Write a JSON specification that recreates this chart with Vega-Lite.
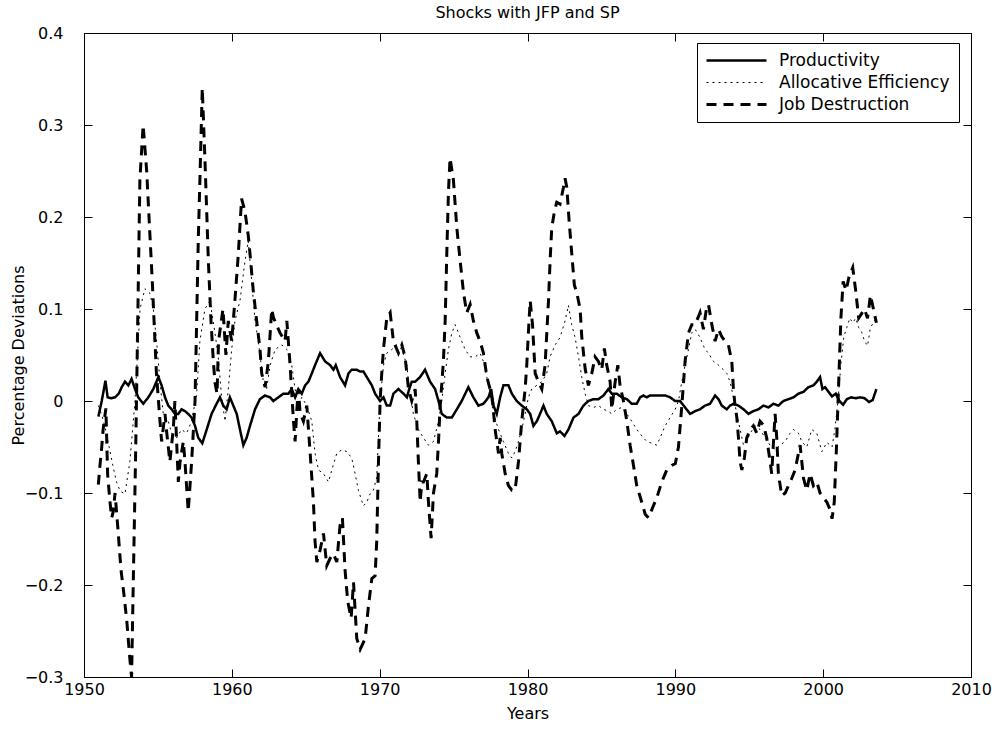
{
"$schema": "https://vega.github.io/schema/vega-lite/v6.json",
"width": 887, "height": 644,
"autosize": "none",
"padding": {"left": 84, "top": 33, "right": 29, "bottom": 55},
"background": "white",
"config": {"view": {"stroke": "black", "strokeWidth": 1}, "font": "DejaVu Sans"},
"title": {"text": "Shocks with JFP and SP", "font": "DejaVu Sans", "fontSize": 16, "fontWeight": "normal", "offset": 4, "color": "black", "anchor": "middle"},
"datasets": {
"P": [{"t":1950.97,"v":-0.017},{"t":1951.2,"v":0.0},{"t":1951.45,"v":0.022},{"t":1951.6,"v":0.004},{"t":1951.85,"v":0.003},{"t":1952.1,"v":0.004},{"t":1952.35,"v":0.008},{"t":1952.55,"v":0.015},{"t":1952.77,"v":0.021},{"t":1953.0,"v":0.017},{"t":1953.22,"v":0.024},{"t":1953.45,"v":0.013},{"t":1953.67,"v":0.004},{"t":1954.01,"v":-0.003},{"t":1954.35,"v":0.004},{"t":1954.69,"v":0.013},{"t":1955.03,"v":0.026},{"t":1955.25,"v":0.017},{"t":1955.48,"v":0.004},{"t":1955.7,"v":-0.005},{"t":1955.93,"v":-0.009},{"t":1956.15,"v":-0.014},{"t":1956.38,"v":-0.014},{"t":1956.6,"v":-0.009},{"t":1956.83,"v":-0.011},{"t":1957.05,"v":-0.014},{"t":1957.28,"v":-0.018},{"t":1957.51,"v":-0.027},{"t":1957.73,"v":-0.04},{"t":1958.0,"v":-0.046},{"t":1958.3,"v":-0.031},{"t":1958.63,"v":-0.014},{"t":1958.97,"v":-0.003},{"t":1959.2,"v":0.004},{"t":1959.42,"v":-0.005},{"t":1959.65,"v":-0.009},{"t":1959.87,"v":0.004},{"t":1960.1,"v":-0.005},{"t":1960.33,"v":-0.014},{"t":1960.55,"v":-0.031},{"t":1960.78,"v":-0.048},{"t":1961.0,"v":-0.04},{"t":1961.23,"v":-0.027},{"t":1961.57,"v":-0.009},{"t":1961.9,"v":0.002},{"t":1962.24,"v":0.006},{"t":1962.59,"v":0.004},{"t":1962.81,"v":0.0},{"t":1963.15,"v":0.004},{"t":1963.49,"v":0.008},{"t":1963.83,"v":0.008},{"t":1964.05,"v":0.013},{"t":1964.28,"v":0.004},{"t":1964.5,"v":0.013},{"t":1964.73,"v":0.008},{"t":1964.96,"v":0.017},{"t":1965.18,"v":0.021},{"t":1965.41,"v":0.03},{"t":1965.63,"v":0.039},{"t":1965.97,"v":0.052},{"t":1966.31,"v":0.043},{"t":1966.65,"v":0.039},{"t":1966.87,"v":0.034},{"t":1967.03,"v":0.039},{"t":1967.32,"v":0.026},{"t":1967.66,"v":0.017},{"t":1967.89,"v":0.03},{"t":1968.11,"v":0.034},{"t":1968.45,"v":0.034},{"t":1968.68,"v":0.032},{"t":1968.9,"v":0.032},{"t":1969.13,"v":0.026},{"t":1969.47,"v":0.017},{"t":1969.69,"v":0.008},{"t":1970.03,"v":0.0},{"t":1970.26,"v":0.004},{"t":1970.48,"v":-0.005},{"t":1970.71,"v":-0.005},{"t":1970.93,"v":0.008},{"t":1971.27,"v":0.013},{"t":1971.61,"v":0.008},{"t":1971.84,"v":0.004},{"t":1972.0,"v":0.013},{"t":1972.17,"v":0.021},{"t":1972.4,"v":0.021},{"t":1972.73,"v":0.026},{"t":1973.07,"v":0.034},{"t":1973.41,"v":0.021},{"t":1973.75,"v":0.013},{"t":1973.98,"v":0.0},{"t":1974.2,"v":-0.014},{"t":1974.54,"v":-0.018},{"t":1974.88,"v":-0.018},{"t":1975.22,"v":-0.009},{"t":1975.55,"v":0.0},{"t":1976.0,"v":0.015},{"t":1976.34,"v":0.004},{"t":1976.68,"v":-0.005},{"t":1977.02,"v":-0.003},{"t":1977.36,"v":0.004},{"t":1977.54,"v":0.013},{"t":1977.7,"v":-0.005},{"t":1977.92,"v":-0.014},{"t":1978.15,"v":0.004},{"t":1978.37,"v":0.017},{"t":1978.71,"v":0.017},{"t":1978.94,"v":0.008},{"t":1979.27,"v":0.0},{"t":1979.61,"v":-0.005},{"t":1979.95,"v":-0.009},{"t":1980.18,"v":-0.014},{"t":1980.4,"v":-0.027},{"t":1980.63,"v":-0.022},{"t":1980.85,"v":-0.014},{"t":1981.08,"v":-0.005},{"t":1981.3,"v":-0.014},{"t":1981.64,"v":-0.022},{"t":1981.98,"v":-0.035},{"t":1982.2,"v":-0.033},{"t":1982.5,"v":-0.038},{"t":1982.77,"v":-0.031},{"t":1983.11,"v":-0.018},{"t":1983.45,"v":-0.014},{"t":1983.78,"v":-0.005},{"t":1984.12,"v":0.0},{"t":1984.46,"v":0.002},{"t":1984.8,"v":0.002},{"t":1985.14,"v":0.006},{"t":1985.47,"v":0.013},{"t":1985.7,"v":0.008},{"t":1986.04,"v":0.008},{"t":1986.38,"v":0.004},{"t":1986.72,"v":0.002},{"t":1987.05,"v":-0.003},{"t":1987.39,"v":-0.003},{"t":1987.62,"v":0.004},{"t":1987.84,"v":0.006},{"t":1988.07,"v":0.004},{"t":1988.29,"v":0.006},{"t":1988.63,"v":0.006},{"t":1988.97,"v":0.006},{"t":1989.31,"v":0.006},{"t":1989.65,"v":0.004},{"t":1989.99,"v":0.0},{"t":1990.32,"v":0.0},{"t":1990.66,"v":-0.007},{"t":1991.0,"v":-0.014},{"t":1991.34,"v":-0.011},{"t":1991.67,"v":-0.009},{"t":1992.01,"v":-0.005},{"t":1992.35,"v":-0.003},{"t":1992.69,"v":0.006},{"t":1992.92,"v":0.002},{"t":1993.14,"v":-0.005},{"t":1993.48,"v":-0.009},{"t":1993.7,"v":-0.005},{"t":1993.93,"v":-0.003},{"t":1994.27,"v":-0.005},{"t":1994.61,"v":-0.009},{"t":1994.95,"v":-0.014},{"t":1995.28,"v":-0.011},{"t":1995.62,"v":-0.009},{"t":1995.96,"v":-0.005},{"t":1996.3,"v":-0.007},{"t":1996.64,"v":-0.003},{"t":1996.97,"v":-0.005},{"t":1997.31,"v":0.0},{"t":1997.65,"v":0.002},{"t":1997.99,"v":0.004},{"t":1998.33,"v":0.008},{"t":1998.67,"v":0.01},{"t":1999.0,"v":0.015},{"t":1999.34,"v":0.017},{"t":1999.57,"v":0.021},{"t":1999.79,"v":0.026},{"t":1999.95,"v":0.013},{"t":2000.13,"v":0.015},{"t":2000.36,"v":0.01},{"t":2000.6,"v":0.005},{"t":2000.85,"v":0.008},{"t":2001.1,"v":0.0},{"t":2001.35,"v":-0.004},{"t":2001.6,"v":0.002},{"t":2001.9,"v":0.004},{"t":2002.2,"v":0.003},{"t":2002.5,"v":0.004},{"t":2002.8,"v":0.003},{"t":2003.1,"v":-0.001},{"t":2003.35,"v":0.001},{"t":2003.6,"v":0.013}],
"A": [{"t":1950.97,"v":-0.005},{"t":1951.2,"v":-0.015},{"t":1951.45,"v":-0.03},{"t":1951.7,"v":-0.05},{"t":1951.95,"v":-0.07},{"t":1952.2,"v":-0.088},{"t":1952.45,"v":-0.098},{"t":1952.77,"v":-0.101},{"t":1953.1,"v":-0.066},{"t":1953.45,"v":0.0},{"t":1953.79,"v":0.1},{"t":1954.12,"v":0.122},{"t":1954.46,"v":0.117},{"t":1954.69,"v":0.1},{"t":1954.91,"v":0.065},{"t":1955.14,"v":0.021},{"t":1955.36,"v":-0.014},{"t":1955.7,"v":-0.022},{"t":1955.93,"v":-0.035},{"t":1956.27,"v":-0.04},{"t":1956.6,"v":-0.031},{"t":1956.94,"v":-0.035},{"t":1957.28,"v":-0.022},{"t":1957.62,"v":0.008},{"t":1957.84,"v":0.065},{"t":1958.18,"v":0.1},{"t":1958.52,"v":0.109},{"t":1958.86,"v":0.074},{"t":1959.08,"v":0.048},{"t":1959.31,"v":0.004},{"t":1959.54,"v":-0.022},{"t":1959.76,"v":0.013},{"t":1959.99,"v":0.056},{"t":1960.21,"v":0.087},{"t":1960.55,"v":0.109},{"t":1960.89,"v":0.152},{"t":1961.11,"v":0.174},{"t":1961.34,"v":0.131},{"t":1961.57,"v":0.087},{"t":1961.79,"v":0.065},{"t":1962.13,"v":0.021},{"t":1962.35,"v":0.013},{"t":1962.59,"v":0.039},{"t":1962.93,"v":0.056},{"t":1963.38,"v":0.061},{"t":1963.72,"v":0.056},{"t":1964.05,"v":0.039},{"t":1964.28,"v":0.013},{"t":1964.5,"v":-0.005},{"t":1964.73,"v":0.004},{"t":1965.07,"v":-0.005},{"t":1965.41,"v":-0.022},{"t":1965.63,"v":-0.057},{"t":1965.86,"v":-0.075},{"t":1966.2,"v":-0.079},{"t":1966.54,"v":-0.088},{"t":1966.76,"v":-0.075},{"t":1967.1,"v":-0.057},{"t":1967.44,"v":-0.053},{"t":1967.78,"v":-0.055},{"t":1968.11,"v":-0.062},{"t":1968.34,"v":-0.079},{"t":1968.56,"v":-0.097},{"t":1968.9,"v":-0.114},{"t":1969.13,"v":-0.11},{"t":1969.35,"v":-0.101},{"t":1969.58,"v":-0.097},{"t":1969.8,"v":-0.083},{"t":1970.03,"v":0.0},{"t":1970.26,"v":0.039},{"t":1970.48,"v":0.052},{"t":1970.82,"v":0.056},{"t":1971.16,"v":0.061},{"t":1971.5,"v":0.056},{"t":1971.84,"v":0.039},{"t":1971.95,"v":0.021},{"t":1972.28,"v":-0.014},{"t":1972.62,"v":-0.031},{"t":1972.96,"v":-0.04},{"t":1973.3,"v":-0.048},{"t":1973.64,"v":-0.044},{"t":1973.98,"v":-0.022},{"t":1974.2,"v":0.0},{"t":1974.43,"v":0.03},{"t":1974.65,"v":0.056},{"t":1974.88,"v":0.074},{"t":1975.1,"v":0.083},{"t":1975.33,"v":0.074},{"t":1975.55,"v":0.065},{"t":1975.78,"v":0.056},{"t":1976.12,"v":0.048},{"t":1976.46,"v":0.048},{"t":1976.79,"v":0.052},{"t":1977.02,"v":0.043},{"t":1977.25,"v":0.026},{"t":1977.47,"v":0.008},{"t":1977.7,"v":-0.014},{"t":1978.04,"v":-0.031},{"t":1978.37,"v":-0.044},{"t":1978.71,"v":-0.057},{"t":1978.94,"v":-0.062},{"t":1979.16,"v":-0.055},{"t":1979.39,"v":-0.044},{"t":1979.61,"v":-0.031},{"t":1979.84,"v":-0.014},{"t":1980.06,"v":0.004},{"t":1980.29,"v":0.013},{"t":1980.63,"v":0.017},{"t":1980.97,"v":0.021},{"t":1981.3,"v":0.03},{"t":1981.53,"v":0.048},{"t":1981.87,"v":0.061},{"t":1982.2,"v":0.069},{"t":1982.54,"v":0.087},{"t":1982.77,"v":0.104},{"t":1982.99,"v":0.083},{"t":1983.22,"v":0.069},{"t":1983.45,"v":0.048},{"t":1983.67,"v":0.026},{"t":1983.9,"v":0.008},{"t":1984.12,"v":-0.005},{"t":1984.46,"v":-0.007},{"t":1984.8,"v":-0.005},{"t":1985.14,"v":-0.009},{"t":1985.47,"v":-0.011},{"t":1985.7,"v":-0.014},{"t":1986.04,"v":-0.009},{"t":1986.38,"v":-0.007},{"t":1986.72,"v":-0.014},{"t":1987.05,"v":-0.022},{"t":1987.39,"v":-0.031},{"t":1987.73,"v":-0.038},{"t":1988.07,"v":-0.044},{"t":1988.41,"v":-0.046},{"t":1988.75,"v":-0.048},{"t":1988.97,"v":-0.04},{"t":1989.31,"v":-0.027},{"t":1989.65,"v":-0.018},{"t":1989.99,"v":-0.009},{"t":1990.21,"v":0.0},{"t":1990.44,"v":0.021},{"t":1990.66,"v":0.039},{"t":1990.89,"v":0.056},{"t":1991.11,"v":0.074},{"t":1991.34,"v":0.078},{"t":1991.67,"v":0.069},{"t":1992.01,"v":0.056},{"t":1992.24,"v":0.052},{"t":1992.58,"v":0.043},{"t":1992.92,"v":0.039},{"t":1993.25,"v":0.034},{"t":1993.48,"v":0.03},{"t":1993.7,"v":0.021},{"t":1993.93,"v":0.004},{"t":1994.16,"v":-0.014},{"t":1994.38,"v":-0.031},{"t":1994.61,"v":-0.048},{"t":1994.83,"v":-0.044},{"t":1995.06,"v":-0.035},{"t":1995.4,"v":-0.027},{"t":1995.73,"v":-0.031},{"t":1996.07,"v":-0.04},{"t":1996.41,"v":-0.048},{"t":1996.75,"v":-0.053},{"t":1997.09,"v":-0.048},{"t":1997.43,"v":-0.044},{"t":1997.76,"v":-0.035},{"t":1997.99,"v":-0.031},{"t":1998.33,"v":-0.035},{"t":1998.55,"v":-0.044},{"t":1998.89,"v":-0.05},{"t":1999.23,"v":-0.031},{"t":1999.57,"v":-0.035},{"t":1999.91,"v":-0.055},{"t":2000.25,"v":-0.045},{"t":2000.6,"v":-0.05},{"t":2000.8,"v":-0.03},{"t":2001.0,"v":0.0},{"t":2001.2,"v":0.04},{"t":2001.4,"v":0.07},{"t":2001.6,"v":0.08},{"t":2001.8,"v":0.09},{"t":2002.0,"v":0.085},{"t":2002.2,"v":0.09},{"t":2002.4,"v":0.08},{"t":2002.6,"v":0.075},{"t":2002.8,"v":0.065},{"t":2003.0,"v":0.06},{"t":2003.2,"v":0.08},{"t":2003.4,"v":0.085},{"t":2003.6,"v":0.09}],
"J": [{"t":1950.97,"v":-0.091},{"t":1951.08,"v":-0.07},{"t":1951.2,"v":-0.05},{"t":1951.3,"v":-0.03},{"t":1951.48,"v":-0.008},{"t":1951.6,"v":-0.08},{"t":1951.76,"v":-0.11},{"t":1951.87,"v":-0.127},{"t":1951.98,"v":-0.12},{"t":1952.1,"v":-0.1},{"t":1952.3,"v":-0.14},{"t":1952.5,"v":-0.183},{"t":1952.7,"v":-0.21},{"t":1952.9,"v":-0.24},{"t":1953.1,"v":-0.28},{"t":1953.22,"v":-0.3},{"t":1953.33,"v":-0.2},{"t":1953.5,"v":-0.05},{"t":1953.6,"v":0.05},{"t":1953.78,"v":0.24},{"t":1954.0,"v":0.3},{"t":1954.24,"v":0.25},{"t":1954.46,"v":0.18},{"t":1954.62,"v":0.13},{"t":1954.8,"v":0.065},{"t":1954.9,"v":0.03},{"t":1955.14,"v":-0.022},{"t":1955.25,"v":-0.044},{"t":1955.48,"v":-0.014},{"t":1955.6,"v":-0.035},{"t":1955.81,"v":-0.066},{"t":1956.04,"v":-0.03},{"t":1956.15,"v":0.0},{"t":1956.38,"v":-0.088},{"t":1956.5,"v":-0.066},{"t":1956.72,"v":-0.044},{"t":1956.83,"v":-0.066},{"t":1957.05,"v":-0.12},{"t":1957.28,"v":-0.066},{"t":1957.51,"v":0.0},{"t":1957.62,"v":0.087},{"t":1957.73,"v":0.175},{"t":1957.84,"v":0.24},{"t":1958.0,"v":0.34},{"t":1958.18,"v":0.263},{"t":1958.3,"v":0.206},{"t":1958.41,"v":0.153},{"t":1958.59,"v":0.087},{"t":1958.75,"v":0.043},{"t":1958.86,"v":0.02},{"t":1959.0,"v":0.008},{"t":1959.1,"v":0.065},{"t":1959.4,"v":0.1},{"t":1959.6,"v":0.05},{"t":1959.76,"v":0.087},{"t":1959.99,"v":0.065},{"t":1960.21,"v":0.11},{"t":1960.44,"v":0.16},{"t":1960.66,"v":0.22},{"t":1960.89,"v":0.206},{"t":1961.11,"v":0.18},{"t":1961.23,"v":0.16},{"t":1961.45,"v":0.12},{"t":1961.68,"v":0.087},{"t":1961.9,"v":0.057},{"t":1962.02,"v":0.03},{"t":1962.25,"v":0.015},{"t":1962.47,"v":0.043},{"t":1962.7,"v":0.1},{"t":1962.81,"v":0.091},{"t":1963.04,"v":0.082},{"t":1963.26,"v":0.074},{"t":1963.6,"v":0.065},{"t":1963.72,"v":0.087},{"t":1963.94,"v":0.039},{"t":1964.17,"v":-0.022},{"t":1964.28,"v":-0.044},{"t":1964.4,"v":-0.009},{"t":1964.5,"v":0.013},{"t":1964.62,"v":-0.013},{"t":1964.84,"v":-0.022},{"t":1965.07,"v":-0.005},{"t":1965.3,"v":-0.057},{"t":1965.52,"v":-0.11},{"t":1965.63,"v":-0.153},{"t":1965.75,"v":-0.175},{"t":1965.97,"v":-0.162},{"t":1966.2,"v":-0.144},{"t":1966.42,"v":-0.179},{"t":1966.65,"v":-0.171},{"t":1966.87,"v":-0.166},{"t":1967.1,"v":-0.175},{"t":1967.32,"v":-0.135},{"t":1967.48,"v":-0.127},{"t":1967.66,"v":-0.184},{"t":1967.84,"v":-0.218},{"t":1968.07,"v":-0.236},{"t":1968.23,"v":-0.197},{"t":1968.45,"v":-0.258},{"t":1968.68,"v":-0.27},{"t":1969.02,"v":-0.258},{"t":1969.24,"v":-0.223},{"t":1969.47,"v":-0.193},{"t":1969.69,"v":-0.19},{"t":1969.8,"v":-0.153},{"t":1969.92,"v":-0.066},{"t":1970.03,"v":0.0},{"t":1970.14,"v":0.03},{"t":1970.26,"v":0.057},{"t":1970.48,"v":0.09},{"t":1970.71,"v":0.096},{"t":1970.93,"v":0.065},{"t":1971.27,"v":0.052},{"t":1971.5,"v":0.061},{"t":1971.72,"v":0.048},{"t":1971.95,"v":0.013},{"t":1972.17,"v":0.0},{"t":1972.4,"v":0.013},{"t":1972.51,"v":-0.022},{"t":1972.62,"v":-0.066},{"t":1972.74,"v":-0.11},{"t":1972.85,"v":-0.088},{"t":1972.96,"v":-0.088},{"t":1973.19,"v":-0.079},{"t":1973.3,"v":-0.11},{"t":1973.48,"v":-0.149},{"t":1973.64,"v":-0.1},{"t":1973.86,"v":-0.079},{"t":1973.98,"v":-0.044},{"t":1974.08,"v":-0.009},{"t":1974.31,"v":0.043},{"t":1974.43,"v":0.087},{"t":1974.54,"v":0.16},{"t":1974.65,"v":0.226},{"t":1974.76,"v":0.264},{"t":1974.99,"v":0.24},{"t":1975.22,"v":0.188},{"t":1975.44,"v":0.153},{"t":1975.67,"v":0.118},{"t":1975.89,"v":0.096},{"t":1976.12,"v":0.105},{"t":1976.34,"v":0.087},{"t":1976.57,"v":0.074},{"t":1976.79,"v":0.065},{"t":1977.02,"v":0.052},{"t":1977.25,"v":0.026},{"t":1977.47,"v":0.013},{"t":1977.63,"v":0.0},{"t":1977.81,"v":-0.031},{"t":1978.04,"v":-0.057},{"t":1978.15,"v":-0.04},{"t":1978.26,"v":-0.057},{"t":1978.49,"v":-0.079},{"t":1978.71,"v":-0.092},{"t":1978.94,"v":-0.097},{"t":1979.16,"v":-0.097},{"t":1979.39,"v":-0.066},{"t":1979.61,"v":-0.022},{"t":1979.84,"v":0.013},{"t":1979.95,"v":0.039},{"t":1980.06,"v":0.074},{"t":1980.18,"v":0.109},{"t":1980.34,"v":0.083},{"t":1980.52,"v":0.03},{"t":1980.74,"v":0.021},{"t":1980.97,"v":0.013},{"t":1981.19,"v":0.039},{"t":1981.42,"v":0.109},{"t":1981.53,"v":0.153},{"t":1981.64,"v":0.188},{"t":1981.82,"v":0.206},{"t":1981.98,"v":0.216},{"t":1982.2,"v":0.214},{"t":1982.43,"v":0.232},{"t":1982.54,"v":0.242},{"t":1982.66,"v":0.232},{"t":1982.81,"v":0.197},{"t":1982.99,"v":0.161},{"t":1983.17,"v":0.126},{"t":1983.33,"v":0.118},{"t":1983.56,"v":0.1},{"t":1983.67,"v":0.07},{"t":1983.9,"v":0.035},{"t":1984.12,"v":0.017},{"t":1984.35,"v":0.03},{"t":1984.57,"v":0.048},{"t":1984.8,"v":0.043},{"t":1985.02,"v":0.034},{"t":1985.2,"v":0.057},{"t":1985.36,"v":0.039},{"t":1985.59,"v":0.021},{"t":1985.7,"v":-0.009},{"t":1985.93,"v":0.021},{"t":1986.11,"v":0.039},{"t":1986.26,"v":0.017},{"t":1986.49,"v":0.0},{"t":1986.72,"v":-0.022},{"t":1986.94,"v":-0.048},{"t":1987.17,"v":-0.07},{"t":1987.39,"v":-0.092},{"t":1987.73,"v":-0.11},{"t":1987.96,"v":-0.123},{"t":1988.18,"v":-0.127},{"t":1988.41,"v":-0.118},{"t":1988.75,"v":-0.105},{"t":1989.08,"v":-0.088},{"t":1989.42,"v":-0.075},{"t":1989.76,"v":-0.07},{"t":1990.0,"v":-0.068},{"t":1990.21,"v":-0.05},{"t":1990.44,"v":-0.005},{"t":1990.66,"v":0.043},{"t":1990.89,"v":0.074},{"t":1991.11,"v":0.083},{"t":1991.34,"v":0.083},{"t":1991.67,"v":0.096},{"t":1991.9,"v":0.078},{"t":1992.1,"v":0.1},{"t":1992.24,"v":0.105},{"t":1992.47,"v":0.083},{"t":1992.69,"v":0.065},{"t":1992.92,"v":0.078},{"t":1993.14,"v":0.07},{"t":1993.37,"v":0.065},{"t":1993.59,"v":0.061},{"t":1993.82,"v":0.043},{"t":1993.93,"v":0.013},{"t":1994.04,"v":-0.005},{"t":1994.16,"v":-0.018},{"t":1994.27,"v":-0.04},{"t":1994.38,"v":-0.066},{"t":1994.5,"v":-0.075},{"t":1994.67,"v":-0.062},{"t":1994.83,"v":-0.04},{"t":1995.06,"v":-0.031},{"t":1995.28,"v":-0.027},{"t":1995.51,"v":-0.035},{"t":1995.73,"v":-0.022},{"t":1995.96,"v":-0.026},{"t":1996.18,"v":-0.04},{"t":1996.41,"v":-0.066},{"t":1996.52,"v":-0.079},{"t":1996.64,"v":-0.044},{"t":1996.75,"v":-0.014},{"t":1996.86,"v":-0.04},{"t":1996.97,"v":-0.079},{"t":1997.2,"v":-0.103},{"t":1997.43,"v":-0.1},{"t":1997.65,"v":-0.092},{"t":1997.88,"v":-0.084},{"t":1998.1,"v":-0.075},{"t":1998.44,"v":-0.048},{"t":1998.67,"v":-0.084},{"t":1998.89,"v":-0.097},{"t":1999.12,"v":-0.079},{"t":1999.34,"v":-0.092},{"t":1999.57,"v":-0.088},{"t":1999.79,"v":-0.1},{"t":2000.02,"v":-0.105},{"t":2000.25,"v":-0.11},{"t":2000.47,"v":-0.118},{"t":2000.6,"v":-0.128},{"t":2000.75,"v":-0.11},{"t":2000.9,"v":-0.05},{"t":2001.05,"v":0.02},{"t":2001.2,"v":0.09},{"t":2001.35,"v":0.13},{"t":2001.55,"v":0.12},{"t":2001.75,"v":0.135},{"t":2002.0,"v":0.145},{"t":2002.2,"v":0.12},{"t":2002.4,"v":0.09},{"t":2002.6,"v":0.095},{"t":2002.8,"v":0.1},{"t":2003.0,"v":0.09},{"t":2003.2,"v":0.115},{"t":2003.4,"v":0.1},{"t":2003.6,"v":0.085}]
},
"layer": [
{"data": {"name": "P"}, "mark": {"type": "line", "color": "black", "strokeWidth": 2.5, "clip": true},
 "encoding": {
  "x": {"field": "t", "type": "quantitative", "scale": {"domain": [1950, 2010], "nice": false, "zero": false},
   "axis": {"orient": "bottom", "values": [1950,1960,1970,1980,1990,2000,2010], "format": "d", "tickSize": -8, "tickColor": "black", "domainColor": "black", "labelFont": "DejaVu Sans", "labelFontSize": 16, "labelColor": "black", "labelPadding": 12, "labelFlush": false, "labelOverlap": false, "grid": false, "title": "Years", "titleFont": "DejaVu Sans", "titleFontSize": 16, "titleFontWeight": "normal", "titleColor": "black", "titleBaseline": "top", "titleY": 28}},
  "y": {"field": "v", "type": "quantitative", "scale": {"domain": [-0.3, 0.4], "nice": false, "zero": false},
   "axis": {"orient": "left", "values": [-0.3,-0.2,-0.1,0,0.1,0.2,0.3,0.4], "labelExpr": "datum.value == 0 ? '0' : replace(format(datum.value, '.1f'), '-', '\u2212')", "tickSize": -8, "tickColor": "black", "domainColor": "black", "labelFont": "DejaVu Sans", "labelFontSize": 16, "labelColor": "black", "labelPadding": 29, "labelFlush": false, "labelOverlap": false, "grid": false, "title": "Percentage Deviations", "titleFont": "DejaVu Sans", "titleFontSize": 16, "titleFontWeight": "normal", "titleColor": "black", "titleX": -58, "titleY": 322, "titleAngle": 270, "titleBaseline": "bottom", "titleAlign": "center"}},
  "strokeDash": {"datum": "Productivity", "type": "nominal",
   "scale": {"domain": ["Productivity", "Allocative Efficiency", "Job Destruction"], "range": [[1, 0], [2, 4], [10, 7]]},
   "legend": {"orient": "none", "legendX": 613, "legendY": 10, "title": null, "symbolType": "stroke", "symbolSize": 3600, "clipHeight": 17, "symbolOffset": 22, "symbolStrokeColor": "black", "labelFont": "DejaVu Sans", "labelFontSize": 17, "labelColor": "black", "labelOffset": 34, "labelLimit": 400, "strokeColor": "black", "fillColor": "white", "padding": 9, "rowPadding": 4,
    "encode": {"symbols": {"update": {"strokeWidth": {"signal": "datum.value == 'Job Destruction' ? 3 : (datum.value == 'Productivity' ? 2.5 : 1)"}}}}}}
 }},
{"data": {"name": "P"}, "mark": {"type": "point", "opacity": 0},
 "encoding": {
  "x": {"field": "t", "type": "quantitative", "axis": {"orient": "top", "values": [1950,1960,1970,1980,1990,2000,2010], "labels": false, "title": null, "tickSize": -8, "tickColor": "black", "domainColor": "black", "grid": false}},
  "y": {"field": "v", "type": "quantitative", "axis": {"orient": "right", "values": [-0.3,-0.2,-0.1,0,0.1,0.2,0.3,0.4], "labels": false, "title": null, "tickSize": -8, "tickColor": "black", "domainColor": "black", "grid": false}}
 }},
{"data": {"name": "A"}, "mark": {"type": "line", "color": "black", "strokeWidth": 1, "clip": true},
 "encoding": {"x": {"field": "t", "type": "quantitative", "axis": null}, "y": {"field": "v", "type": "quantitative", "axis": null},
  "strokeDash": {"datum": "Allocative Efficiency", "type": "nominal"}}},
{"data": {"name": "J"}, "mark": {"type": "line", "color": "black", "strokeWidth": 3, "clip": true},
 "encoding": {"x": {"field": "t", "type": "quantitative", "axis": null}, "y": {"field": "v", "type": "quantitative", "axis": null},
  "strokeDash": {"datum": "Job Destruction", "type": "nominal"}}}
],
"resolve": {"axis": {"x": "independent", "y": "independent"}}
}
